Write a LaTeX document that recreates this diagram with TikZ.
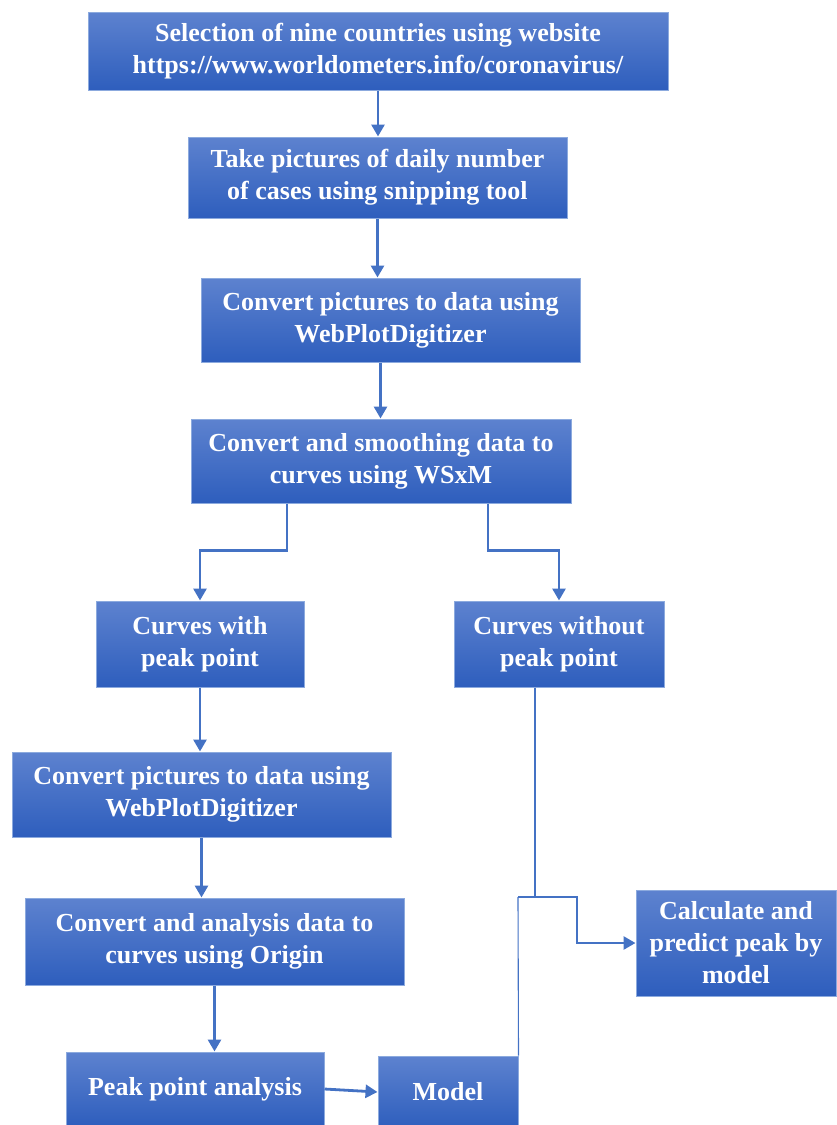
\documentclass[tikz,border=0pt]{standalone}
\usepackage{fontspec}
\setmainfont{Liberation Serif}
\usetikzlibrary{positioning,calc,arrows.meta}
\definecolor{BoxTop}{RGB}{93,130,207}
\definecolor{BoxBottom}{RGB}{46,94,189}
\definecolor{BoxLine}{RGB}{140,170,222}
\definecolor{ArrBlue}{RGB}{68,114,196}
\tikzset{
  stage/.style={draw=BoxLine,line width=1pt,top color=BoxTop,bottom color=BoxBottom,
    text=white,align=center,inner sep=0pt,
    font=\fontsize{26}{32}\selectfont\bfseries},
  flow/.style={draw=ArrBlue,line width=2.8pt,-{Triangle[length=12pt,width=13pt]}},
  thinflow/.style={draw=ArrBlue,line width=1.1pt},
}

\begin{document}
\begin{tikzpicture}[x=1pt,y=-1pt]
        \useasboundingbox (0,0) rectangle (836,1125);
        \node[stage,minimum width=580,minimum height=78] (select) at (378,51)
          {Selection of nine countries using website\\https://www.worldometers.info/coronavirus/};
        \node[stage,minimum width=379,minimum height=81] (snip) at (377.5,177.5)
          {Take pictures of daily number\\of cases using snipping tool};
        \node[stage,minimum width=379,minimum height=84] (digit) at (390.5,320)
          {Convert pictures to data using\\WebPlotDigitizer};
        \node[stage,minimum width=380,minimum height=84] (wsxm) at (381,461)
          {Convert and smoothing data to\\curves using WSxM};
        \node[stage,minimum width=208,minimum height=86] (withpk) at (200,644)
          {Curves with\\peak point};
        \node[stage,minimum width=210,minimum height=86] (nopk) at (559,644)
          {Curves without\\peak point};
        \node[stage,minimum width=379,minimum height=85] (digittwo) at (201.5,794.5)
          {Convert pictures to data using\\WebPlotDigitizer};
        \node[stage,minimum width=379,minimum height=87] (origin) at (214.5,941.5)
          {Convert and analysis data to\\curves using Origin};
        \node[stage,minimum width=258,minimum height=74] (peak) at (195,1089)
          {Peak point analysis};
        \node[stage,minimum width=140,minimum height=72] (model) at (448,1092)
          {Model};
        \node[stage,minimum width=200,minimum height=106] (predict) at (736,943)
          {Calculate and\\predict peak by\\model};
        \coordinate (split) at (518,897);
        % main chain
        \draw[flow] (select.south) -- (select.south |- snip.north);
        \draw[flow] (snip.south) -- (snip.south |- digit.north);
        \draw[flow] ([xshift=-10]digit.south) -- ([xshift=-10]digit.south |- wsxm.north);
        \draw[flow] ([xshift=-94]wsxm.south) -- ++(0,47) -| (withpk.north);
        \draw[flow] ([xshift=107]wsxm.south) -- ++(0,47) -| (nopk.north);
        \draw[flow] (withpk.south) -- (withpk.south |- digittwo.north);
        \draw[flow] (digittwo.south) -- (digittwo.south |- origin.north);
        \draw[flow] (origin.south) -- (origin.south |- peak.north);
        \draw[flow] (peak.east) -- (model.west);
        % route to the model box
        \draw[thinflow] ([xshift=-24]nopk.south) -- ([xshift=-24]nopk.south |- split);
        \draw[thinflow] (model.north east) -- (split);
        \draw[flow] (split) -- ++(59,0) |- (predict.west);
      \end{tikzpicture}
\end{document}
